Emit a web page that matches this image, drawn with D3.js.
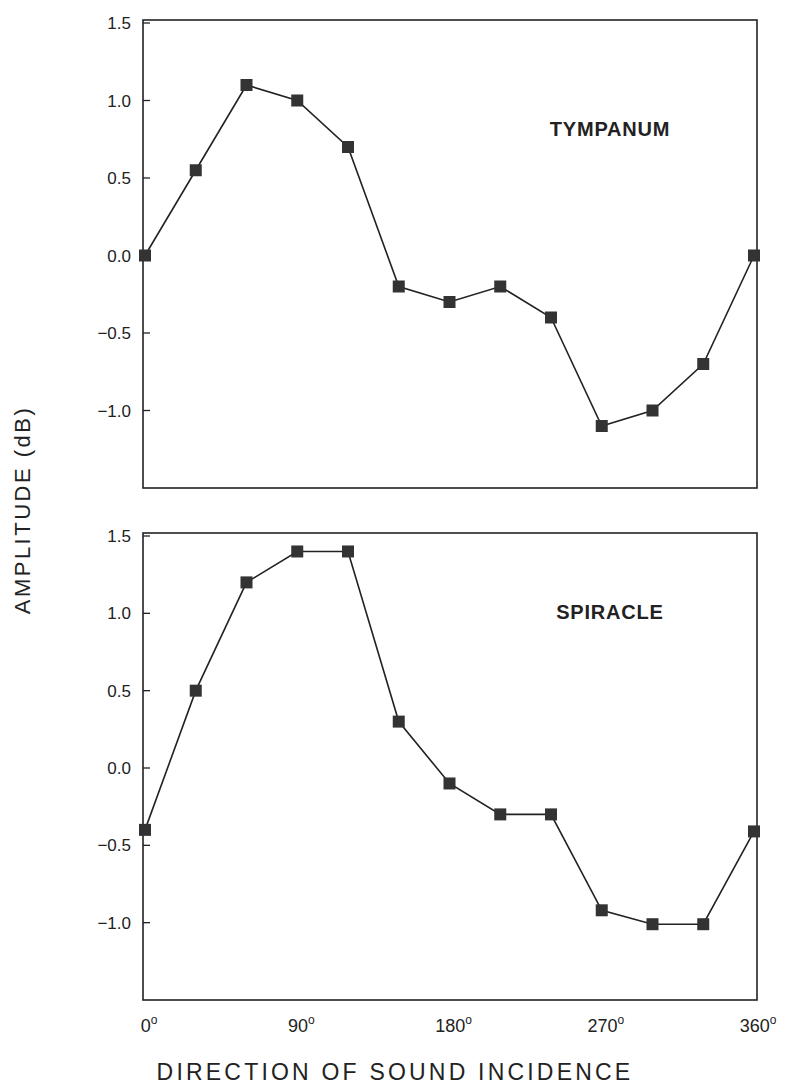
<!DOCTYPE html>
<html><head><meta charset="utf-8">
<script src="https://cdn.jsdelivr.net/npm/d3@7"></script>
<style>body{margin:0;background:#fff}text{font-family:"Liberation Sans",Arial,sans-serif;fill:#222}</style>
</head><body><svg id="c" width="787" height="1090"></svg>
<script>
const angles = [0, 30, 60, 90, 120, 150, 180, 210, 240, 270, 300, 330, 360];
const tympanum = [0, 0.55, 1.1, 1.0, 0.7, -0.2, -0.3, -0.2, -0.4, -1.1, -1.0, -0.7, 0];
const spiracle = [-0.4, 0.5, 1.2, 1.4, 1.4, 0.3, -0.1, -0.3, -0.3, -0.92, -1.01, -1.01, -0.41];
const yTicks = [-1.0, -0.5, 0.0, 0.5, 1.0, 1.5];
const xTicks = [0, 90, 180, 270, 360];

const svg = d3.select("#c");
const x = d3.scaleLinear().domain([0, 360]).range([145, 754]);
const L = 143, R = 757;

function panel(vals, top, bottom, label) {
  const y = d3.scaleLinear().domain([-1.5, 1.5]).range([bottom, top + 3]);
  const g = svg.append("g");
  g.append("rect").attr("x", L).attr("y", top).attr("width", R - L).attr("height", bottom - top)
    .attr("fill", "none").attr("stroke", "#222").attr("stroke-width", 1.6);
  yTicks.forEach(t => {
    g.append("line").attr("x1", L).attr("x2", L + 7).attr("y1", y(t)).attr("y2", y(t)).attr("stroke", "#222").attr("stroke-width", 1.3);
    g.append("text").attr("x", L - 12).attr("y", y(t) + 6).attr("text-anchor", "end").attr("font-size", 17)
      .text(t.toFixed(1).replace("-", "\u2212"));
  });
  const line = d3.line().x((d, i) => x(angles[i])).y(d => y(d));
  g.append("path").attr("d", line(vals)).attr("fill", "none").attr("stroke", "#222").attr("stroke-width", 1.6);
  g.selectAll("rect.pt").data(vals).join("rect").attr("class", "pt")
    .attr("x", (d, i) => x(angles[i]) - 6).attr("y", d => y(d) - 6).attr("width", 12).attr("height", 12).attr("fill", "#333");
  g.append("text").attr("x", 610).attr("y", label === "TYMPANUM" ? top + 116 : top + 86).attr("text-anchor", "middle")
    .attr("font-size", 20).attr("font-weight", "bold").attr("letter-spacing", 0.8).text(label);
}
panel(tympanum, 20, 488, "TYMPANUM");
panel(spiracle, 533, 1000, "SPIRACLE");

xTicks.forEach(t => {
  const tx = svg.append("text").attr("x", x(t) + 4).attr("y", 1032).attr("text-anchor", "middle").attr("font-size", 18);
  tx.append("tspan").text(t);
  tx.append("tspan").attr("dy", -8).attr("font-size", 12).text("o");
});
svg.append("text").attr("x", 395).attr("y", 1080).attr("text-anchor", "middle").attr("font-size", 23)
  .attr("letter-spacing", 3.2).text("DIRECTION OF SOUND INCIDENCE");
svg.append("text").attr("transform", "translate(30,510) rotate(-90)").attr("text-anchor", "middle")
  .attr("font-size", 22).attr("letter-spacing", 2.5).text("AMPLITUDE (dB)");
</script></body></html>
